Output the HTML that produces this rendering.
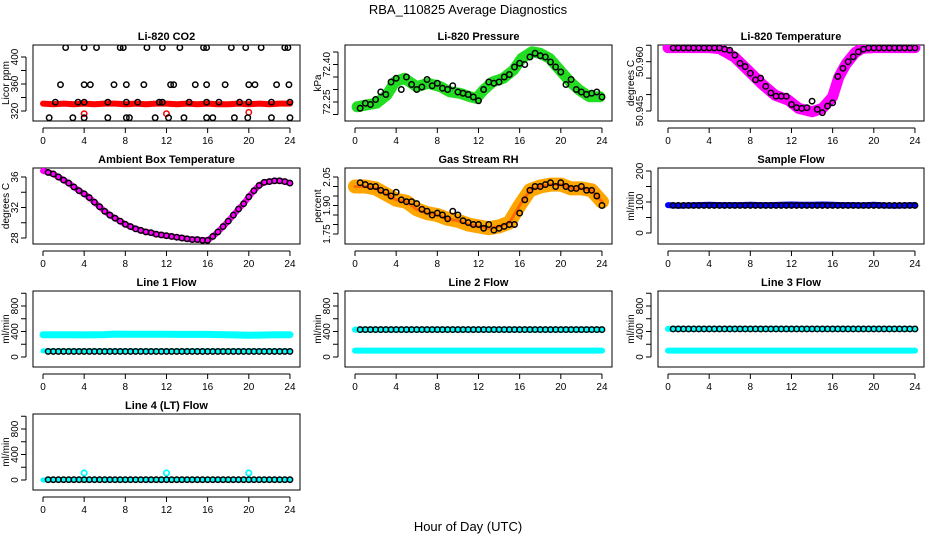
<!DOCTYPE html>
<html><head><meta charset="utf-8"><style>
html,body{margin:0;padding:0;background:#fff;}
svg{display:block;font-family:"Liberation Sans",Arial,sans-serif;}
</style></head><body>
<svg id="chart" width="936" height="540" viewBox="0 0 936 540">
<text x="468" y="14" text-anchor="middle" font-size="13">RBA_110825  Average Diagnostics</text>
<text x="468" y="531" text-anchor="middle" font-size="13">Hour of Day (UTC)</text>
</svg>
<script>
// ---- data arrays ----
const hourTicks = [0,4,8,12,16,20,24];
const halfHours = [0.5,1,1.5,2,2.5,3,3.5,4,4.5,5,5.5,6,6.5,7,7.5,8,8.5,9,9.5,10,10.5,11,11.5,12,12.5,13,13.5,14,14.5,15,15.5,16,16.5,17,17.5,18,18.5,19,19.5,20,20.5,21,21.5,22,22.5,23,23.5,24];
const hourly = [0,1,2,3,4,5,6,7,8,9,10,11,12,13,14,15,16,17,18,19,20,21,22,23,24];

// CO2
const co2RedVals = [331,330,331,330,331,330,331,331,330,331,330,331,331,330,331,330,331,330,330,331,330,331,330,331,331];
const co2RedOutH = [4,12,20];
const co2RedOutV = [316,316,318];
const co2TopH = [2.2,4.0,5.2,7.5,7.8,10.1,11.6,13.3,15.6,15.9,18.3,19.7,21.2,23.5,23.8];
const co2MidH = [1.7,4.0,4.6,6.9,8.1,9.8,12.4,12.7,14.8,15.9,17.7,20.0,20.6,22.7,23.9];
const co2LowH = [1.2,3.4,4.0,6.3,8.1,9.2,11.3,11.6,14.2,15.9,17.1,19.1,20.0,22.2,24.0];
const co2BotH = [0.6,2.9,4.0,6.3,8.1,8.4,10.9,12.2,13.7,15.9,16.5,18.6,19.9,22.2,24.0];
const co2Levels = [414,359,333,310];

// Pressure
const presBandH = [0.2,1.1,2.1,3.1,3.9,4.8,6,7.1,8.3,9.2,10.2,11.2,11.8,12.5,13.4,14.4,15.4,16.2,17.2,18,18.9,19.9,20.9,21.8,22.8,23.8];
const presBandV = [72.231,72.238,72.245,72.278,72.331,72.345,72.311,72.325,72.311,72.291,72.285,72.271,72.265,72.298,72.331,72.345,72.378,72.425,72.451,72.445,72.425,72.378,72.331,72.298,72.271,72.271];
const presBlack = [72.225,72.245,72.24,72.26,72.29,72.28,72.33,72.345,72.30,72.35,72.32,72.30,72.31,72.34,72.315,72.325,72.305,72.30,72.315,72.29,72.285,72.28,72.27,72.255,72.30,72.33,72.325,72.33,72.35,72.36,72.39,72.405,72.40,72.43,72.445,72.435,72.43,72.41,72.39,72.37,72.32,72.34,72.30,72.29,72.28,72.285,72.29,72.27];

// Li-820 temperature
const tempBandH = [0,2,4,5,6.5,7.8,9.1,10.4,11.7,12.7,14,15,16,16.6,17.3,18.2,18.9,20,22,24];
const tempBandV = [50.9643,50.9643,50.9643,50.9640,50.9613,50.9573,50.9533,50.9498,50.9483,50.9458,50.9448,50.9458,50.9493,50.9553,50.9593,50.9628,50.9641,50.9643,50.9643,50.9643];
const tempBlack = [50.9642,50.9642,50.9642,50.9642,50.9642,50.9642,50.9642,50.9642,50.9642,50.9642,50.9638,50.9635,50.962,50.9595,50.9585,50.9565,50.9545,50.955,50.9525,50.9505,50.9495,50.9495,50.9495,50.947,50.946,50.9458,50.946,50.948,50.9455,50.9445,50.9465,50.9475,50.9555,50.958,50.960,50.9615,50.963,50.9638,50.9642,50.9642,50.9642,50.9642,50.9642,50.9642,50.9642,50.9642,50.9642,50.9642];

// Ambient box temperature
const ambVals = [36.6,36.4,36.0,35.6,35.2,34.7,34.2,33.8,33.3,32.7,32.1,31.5,31.0,30.6,30.2,29.8,29.5,29.2,29.0,28.8,28.7,28.5,28.4,28.3,28.2,28.1,28.0,27.9,27.8,27.8,27.7,27.7,28.2,28.8,29.5,30.2,31.0,31.8,32.5,33.4,34.2,34.9,35.3,35.4,35.5,35.5,35.4,35.2,34.8];

// Gas stream RH
const rhBand = [2.0,2.0,1.99,1.96,1.93,1.92,1.88,1.86,1.85,1.83,1.82,1.80,1.79,1.78,1.79,1.81,1.90,1.98,2.00,2.01,2.01,1.99,1.99,1.98,1.92];
const rhBlack = [2.02,2.01,2.0,2.0,1.98,1.97,1.95,1.97,1.93,1.92,1.92,1.91,1.88,1.87,1.85,1.86,1.85,1.83,1.87,1.85,1.82,1.81,1.80,1.80,1.78,1.80,1.77,1.78,1.79,1.80,1.80,1.86,1.93,1.98,2.0,2.0,2.01,2.02,2.0,2.02,2.0,1.99,1.99,2.0,1.98,1.98,1.95,1.90];

// Sample flow
const sampleBand = [90,88,89,90,91,90,90,90,91,90,90,91,92,91,91,92,91,90,90,89,91,89,88,89,90];
const sampleBlack = 89;

// Line flows
const line1Cyan = [350,350,350,348,346,350,352,360,358,356,356,356,356,355,355,354,354,352,350,345,342,344,346,348,350];
const line1Black = 88;
const line2Black = 430;
const line2Cyan = 100;
const line3Black = 440;
const line3Cyan = 100;
const line4Black = 5;
const line4CyanOutH = [4,12,20];
const line4CyanOutV = [110,110,110];

// ---- layout ----
const svg = document.getElementById('chart');
const NS = 'http://www.w3.org/2000/svg';
const colL = [33,345,658], colR = [300,612,924], colX0 = [43,355,668];
const XS = 10.29;
const rowT = [45,168,291,414], rowB = [121,244,367,490];
const titleX = [9,321,634];

function el(tag, attrs, parent){
  const e = document.createElementNS(NS, tag);
  for (const k in attrs) e.setAttribute(k, attrs[k]);
  (parent||svg).appendChild(e);
  return e;
}

function panel(name, title, ytitle, r, c, v0, y0, v1, y1, ticks, labels, fmt){
  const g = el('g', {});
  
  
  const L = colL[c], R = colR[c], T = rowT[r], B = rowB[r];
  const xf = h => colX0[c] + h * XS;
  const yf = v => y0 + (v - v0) * (y1 - y0) / (v1 - v0);
  const box = el('rect', {x:L, y:T, width:R-L, height:B-T, fill:'none', stroke:'#000', 'stroke-width':1}, g);
  
  
  const t = el('text', {x:(L+R)/2, y:T-5, 'text-anchor':'middle', 'font-size':11, 'font-weight':'bold'}, g);
  t.textContent = title;
  
  
  const yt = el('text', {x:titleX[c], y:(T+B)/2, 'text-anchor':'middle', 'font-size':10, transform:`rotate(-90 ${titleX[c]} ${(T+B)/2})`}, g);
  yt.textContent = ytitle;
  
  
  const xa = el('g', {}, g);
  
  
  el('line', {x1:xf(0), x2:xf(24), y1:B+7, y2:B+7, stroke:'#000'}, xa);
  hourTicks.forEach(h => {
    el('line', {x1:xf(h), x2:xf(h), y1:B+7, y2:B+12, stroke:'#000'}, xa);
    const tl = el('text', {x:xf(h), y:B+23, 'text-anchor':'middle', 'font-size':10}, xa);
    tl.textContent = h;
  });
  const ya = el('g', {}, g);
  
  
  el('line', {x1:L-7, x2:L-7, y1:yf(ticks[0]), y2:yf(ticks[ticks.length-1]), stroke:'#000'}, ya);
  ticks.forEach(v => {
    el('line', {x1:L-12, x2:L-7, y1:yf(v), y2:yf(v), stroke:'#000'}, ya);
  });
  labels.forEach(v => {
    const lx = L-15, ly = yf(v);
    const tl = el('text', {x:lx, y:ly, 'text-anchor':'middle', 'font-size':10, transform:`rotate(-90 ${lx} ${ly})`}, ya);
    tl.textContent = fmt ? fmt(v) : v;
  });
  const clip = 'clip-' + name;
  const cp = el('clipPath', {id:clip}, g);
  el('rect', {x:L, y:T, width:R-L, height:B-T}, cp);
  const data = el('g', {'clip-path':`url(#${clip})`}, g);
  return {g, data, xf, yf};
}

function band(p, name, hs, vs, color, w){
  const d = hs.map((h,i) => (i?'L':'M') + p.xf(h).toFixed(1) + ' ' + p.yf(vs[i]).toFixed(1)).join(' ');
  const path = el('path', {d, fill:'none', stroke:color, 'stroke-width':w, 'stroke-linejoin':'round', 'stroke-linecap':'round'}, p.data);
  
  
}
function dots(p, name, hs, vs, color, sw){
  const g = el('g', {}, p.data);
  
  
  hs.forEach((h,i) => {
    el('circle', {cx:p.xf(h), cy:p.yf(vs[i]), r:2.7, fill:'none', stroke:color, 'stroke-width':sw||1.5}, g);
  });
}
const constArr = (n, v) => Array(n).fill(v);

let p = panel('co2', 'Li-820 CO2', 'Licor ppm', 0, 0, 320, 111, 400, 57, [320,340,360,380,400], [320,360,400]);
band(p, 'co2-red-band', hourly, co2RedVals, '#ff0000', 6);
dots(p, 'co2-red-outliers', co2RedOutH, co2RedOutV, '#ff0000', 1.5);
dots(p, 'co2-black-top', co2TopH, constArr(co2TopH.length, co2Levels[0]), '#000');
dots(p, 'co2-black-mid', co2MidH, constArr(co2MidH.length, co2Levels[1]), '#000');
dots(p, 'co2-black-low', co2LowH, constArr(co2LowH.length, co2Levels[2]), '#000');
dots(p, 'co2-black-bottom', co2BotH, constArr(co2BotH.length, co2Levels[3]), '#000');

p = panel('pressure', 'Li-820 Pressure', 'kPa', 0, 1, 72.25, 102, 72.40, 64.5, [72.20,72.25,72.30,72.35,72.40,72.45], [72.25,72.40], v => v.toFixed(2));
band(p, 'pressure-green-band', presBandH, presBandV, '#22dd22', 11);
dots(p, 'pressure-black-points', halfHours, presBlack, '#000');

p = panel('li820-temp', 'Li-820 Temperature', 'degrees C', 0, 2, 50.945, 111, 50.960, 61.7, [50.945,50.950,50.955,50.960,50.965], [50.945,50.960], v => v.toFixed(3));
band(p, 'temp-magenta-band', tempBandH, tempBandV, '#ff00ff', 11);
dots(p, 'temp-black-points', halfHours, tempBlack, '#000');

p = panel('ambient', 'Ambient Box Temperature', 'degrees C', 1, 0, 28, 238, 36, 177, [28,30,32,34,36], [28,32,36]);
band(p, 'ambient-magenta-band', [0].concat(halfHours), [36.8].concat(ambVals), '#ff00ff', 6);
dots(p, 'ambient-black-points', halfHours, ambVals, '#000');

p = panel('rh', 'Gas Stream RH', 'percent', 1, 1, 1.75, 234, 2.05, 177, [1.75,1.80,1.85,1.90,1.95,2.00,2.05], [1.75,1.90,2.05], v => v.toFixed(2));
band(p, 'rh-orange-band', hourly, rhBand, '#ffa500', 14);
band(p, 'rh-red-band', hourly, rhBand, '#ff6a00', 3);
dots(p, 'rh-black-points', halfHours, rhBlack, '#000');

p = panel('sample-flow', 'Sample Flow', 'ml/min', 1, 2, 0, 233, 200, 171, [0,50,100,150,200], [0,100,200]);
band(p, 'sample-blue-band', hourly, sampleBand, '#0000ff', 6);
dots(p, 'sample-black-points', halfHours, constArr(halfHours.length, sampleBlack), '#000');

const flowTicks = [0,200,400,600,800,1000], flowLabels = [0,400,800];
p = panel('line1-flow', 'Line 1 Flow', 'ml/min', 2, 0, 0, 357, 800, 306, flowTicks, flowLabels);
band(p, 'line1-cyan-band', hourly, line1Cyan, '#00ffff', 7);
band(p, 'line1-cyan-low-band', hourly, constArr(25, 95), '#00ffff', 5);
dots(p, 'line1-black-points', halfHours, constArr(halfHours.length, line1Black), '#000');

p = panel('line2-flow', 'Line 2 Flow', 'ml/min', 2, 1, 0, 357, 800, 306, flowTicks, flowLabels);
band(p, 'line2-cyan-high-band', hourly, constArr(25, line2Black), '#00ffff', 6);
band(p, 'line2-cyan-band', hourly, constArr(25, line2Cyan), '#00ffff', 6);
dots(p, 'line2-black-points', halfHours, constArr(halfHours.length, line2Black), '#000');

p = panel('line3-flow', 'Line 3 Flow', 'ml/min', 2, 2, 0, 357, 800, 306, flowTicks, flowLabels);
band(p, 'line3-cyan-high-band', hourly, constArr(25, line3Black), '#00ffff', 6);
band(p, 'line3-cyan-band', hourly, constArr(25, line3Cyan), '#00ffff', 6);
dots(p, 'line3-black-points', halfHours, constArr(halfHours.length, line3Black), '#000');

p = panel('line4-flow', 'Line 4 (LT) Flow', 'ml/min', 3, 0, 0, 480, 800, 429, flowTicks, flowLabels);
band(p, 'line4-cyan-band', hourly, constArr(25, 0), '#00ffff', 5);
dots(p, 'line4-cyan-outliers', line4CyanOutH, line4CyanOutV, '#00ffff', 1.8);
dots(p, 'line4-black-points', halfHours, constArr(halfHours.length, line4Black), '#000');
</script>
</body></html>
